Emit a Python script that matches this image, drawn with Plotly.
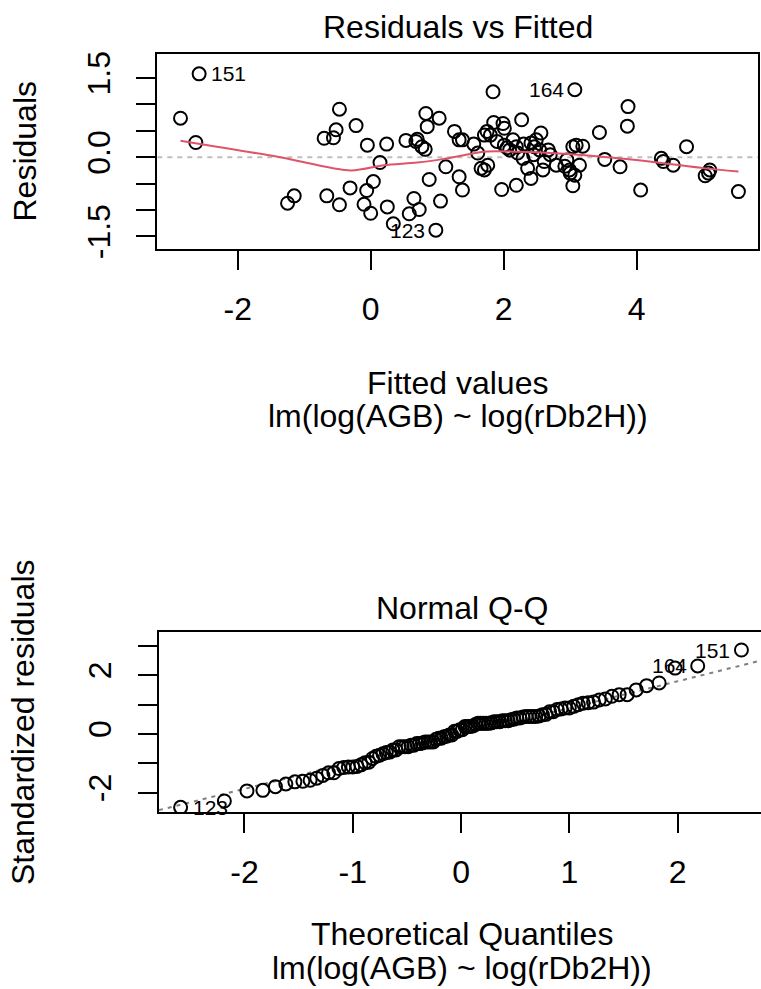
import plotly.graph_objects as go
from statistics import NormalDist

# ---- data ----
# first three entries are the labelled observations 151, 164, 123
point_ids = ["151", "164", "123"]
fitted = [-2.58, 3.07, 0.98, -2.86, -2.63, -1.25, -1.15, -0.70, -0.56, -0.52,
          -0.47, -0.22, -0.66, -0.47, -0.31, -0.05, 0.04, -0.06, -0.10, 0.00,
          0.14, 0.24, 0.25, 0.34, 0.53, 0.68, 0.70, 0.77, 0.82, 0.83,
          0.85, 0.65, 0.73, 0.58, 0.88, 1.03, 1.05, 1.13, 1.26, 1.33,
          1.33, 1.38, 1.38, 1.55, 1.61, 1.71, 1.75, 1.84, 1.85, 1.99,
          2.01, 1.66, 1.71, 1.76, 1.97, 2.19, 2.01, 2.09, 2.14, 2.19,
          2.21, 2.27, 2.29, 2.36, 2.41, 2.41, 2.46, 2.49, 2.54, 2.56,
          2.61, 2.59, 2.67, 2.79, 2.92, 2.99, 3.04, 3.09, 3.04, 3.07,
          3.14, 3.19, 3.44, 3.52, 3.75, 3.86, 3.87, 4.06, 4.37, 4.40,
          4.55, 4.75, 5.03, 5.08, 5.10, 5.53, 1.80, 1.90, 2.05, 2.30,
          2.45, 2.95, 3.00, 2.70]
resid = [1.58, 1.28, -1.38, 0.74, 0.28, -0.87, -0.73, 0.36, 0.37, 0.52,
         0.91, 0.60, -0.73, -0.90, -0.58, 0.23, -0.46, -0.63, -0.89, -1.06,
         -0.10, 0.25, -0.94, -1.26, 0.32, 0.30, 0.34, 0.20, 0.15, 0.83,
         0.58, -0.78, -0.99, -1.07, -0.42, 0.74, -0.83, -0.18, 0.49, 0.33,
         -0.37, -0.62, 0.33, 0.25, 0.08, 0.42, 0.49, 1.24, 0.66, 0.64,
         0.55, -0.21, -0.24, -0.15, -0.61, -0.53, 0.23, 0.14, 0.33, 0.20,
         0.08, 0.71, -0.02, -0.21, -0.40, 0.27, 0.20, 0.33, 0.14, 0.46,
         -0.08, -0.24, 0.14, -0.15, -0.17, -0.24, 0.20, 0.23, -0.54, -0.34,
         -0.15, 0.21, 0.47, -0.04, -0.18, 0.59, 0.96, -0.62, -0.02, -0.08,
         -0.15, 0.20, -0.35, -0.30, -0.24, -0.65, 0.42, 0.30, 0.18, 0.25,
         0.05, -0.05, -0.30, 0.05]
smooth_x = [-2.86, -1.36, -0.30, 0.20, 0.70, 1.10, 1.40, 1.71, 2.21, 2.97, 3.47, 4.22, 5.03, 5.53]
smooth_y = [0.315, 0.00, -0.25, -0.15, -0.10, -0.03, 0.04, 0.106, 0.106, 0.063, 0.011, -0.083, -0.21, -0.27]
resid_scale = 0.553          # residual standard error used for standardising
qq_intercept = -0.036
qq_slope = 0.915

top_xticks = [-2, 0, 2, 4]
top_xticktext = ["-2", "0", "2", "4"]
top_yticks = [-1.5, -1.0, -0.5, 0.0, 0.5, 1.0, 1.5]
top_yticktext = ["-1.5", "", "", "0.0", "", "", "1.5"]
bot_xticks = [-2, -1, 0, 1, 2]
bot_xticktext = ["-2", "-1", "0", "1", "2"]
bot_yticks = [-2, -1, 0, 1, 2, 3]
bot_yticktext = ["-2", "", "0", "", "2", ""]

# ---- derived Q-Q values ----
n = len(resid)
order = sorted(range(n), key=lambda i: resid[i])
std_sorted = [resid[i] / resid_scale for i in order]
theo = [NormalDist().inv_cdf((k + 0.5) / n) for k in range(n)]
rank_of = {idx: k for k, idx in enumerate(order)}

W, H = 761, 989
FONT = "Liberation Sans, Arial, sans-serif"
FS = 32
LFS = 21

def px(v):
    return v / W

def py(v):
    return 1 - v / H

top_xr = [-3.209, 5.829]
top_yr = [-1.737, 1.956]
bot_xr = [-2.789, 2.770]
bot_yr = [-2.653, 3.480]

fig = go.Figure()
marker = dict(symbol="circle-open", size=13, color="black", line=dict(width=2, color="black"))

fig.add_trace(go.Scatter(x=top_xr, y=[0, 0], mode="lines",
                         line=dict(color="#BEBEBE", width=2, dash="5px,5px"),
                         xaxis="x", yaxis="y", hoverinfo="skip"))
fig.add_trace(go.Scatter(x=fitted, y=resid, mode="markers", marker=marker,
                         xaxis="x", yaxis="y"))
fig.add_trace(go.Scatter(x=smooth_x, y=smooth_y, mode="lines",
                         line=dict(color="#DF536B", width=2, shape="spline", smoothing=0.8),
                         xaxis="x", yaxis="y"))

fig.add_trace(go.Scatter(x=bot_xr, y=[qq_intercept + qq_slope * v for v in bot_xr], mode="lines",
                         line=dict(color="#7F7F7F", width=2, dash="4px,5px"),
                         xaxis="x2", yaxis="y2", hoverinfo="skip"))
fig.add_trace(go.Scatter(x=theo, y=std_sorted, mode="markers", marker=marker,
                         xaxis="x2", yaxis="y2"))

axis_common = dict(showgrid=False, zeroline=False, showline=True, linecolor="black",
                   linewidth=2, ticks="outside", ticklen=19, tickwidth=2, tickcolor="black",
                   automargin=False,
                   tickfont=dict(family=FONT, size=FS, color="black"))

fig.update_layout(
    width=W, height=H, margin=dict(l=0, r=0, t=0, b=0, autoexpand=False),
    paper_bgcolor="white", plot_bgcolor="white", showlegend=False,
    xaxis=dict(domain=[px(157.3), px(758.3)], range=top_xr, tickvals=top_xticks,
               ticktext=top_xticktext, mirror=True, anchor="y", ticklabelstandoff=12,
               **axis_common),
    yaxis=dict(domain=[py(249), py(54)], range=top_yr, tickvals=top_yticks,
               ticktext=top_yticktext, tickangle=-90, mirror=True, anchor="x",
               ticklabelstandoff=14, **axis_common),
    xaxis2=dict(domain=[px(159), 1.0], range=bot_xr, tickvals=bot_xticks,
                ticktext=bot_xticktext, mirror=True, anchor="y2", ticklabelstandoff=12,
                **axis_common),
    yaxis2=dict(domain=[py(812), py(631.7)], range=bot_yr, tickvals=bot_yticks,
                ticktext=bot_yticktext, tickangle=-90, mirror=False, anchor="x2",
                ticklabelstandoff=14, **axis_common),
)

def ann(text, x, y, angle=0, size=FS):
    fig.add_annotation(text=text, x=px(x), y=py(y), xref="paper", yref="paper",
                       showarrow=False, textangle=angle, xanchor="center", yanchor="middle",
                       font=dict(family=FONT, size=size, color="black"))

ann("Residuals vs Fitted", 457.7, 27)
ann("Fitted values", 457.7, 383)
ann("lm(log(AGB) ~ log(rDb2H))", 457.7, 416)
ann("Residuals", 25, 151.5, angle=-90)
ann("Normal Q-Q", 462, 608)
ann("Theoretical Quantiles", 462, 934)
ann("lm(log(AGB) ~ log(rDb2H))", 462, 968)
ann("Standardized residuals", 23, 722, angle=-90)

# point labels, top panel
top_sides = ["right", "left", "left"]
for k, pid in enumerate(point_ids):
    side = top_sides[k]
    fig.add_annotation(text=pid, x=fitted[k], y=resid[k], xref="x", yref="y", showarrow=False,
                       xanchor="left" if side == "right" else "right",
                       xshift=10 if side == "right" else -9, yanchor="middle",
                       font=dict(family=FONT, size=LFS, color="black"))
# point labels, Q-Q panel
qq_sides = ["left", "left", "right"]
for k, pid in enumerate(point_ids):
    r = rank_of[k]
    side = qq_sides[k]
    fig.add_annotation(text=pid, x=theo[r], y=std_sorted[r], xref="x2", yref="y2", showarrow=False,
                       xanchor="left" if side == "right" else "right",
                       xshift=10 if side == "right" else -9, yanchor="middle",
                       font=dict(family=FONT, size=LFS, color="black"))

fig.write_html("out.html")
